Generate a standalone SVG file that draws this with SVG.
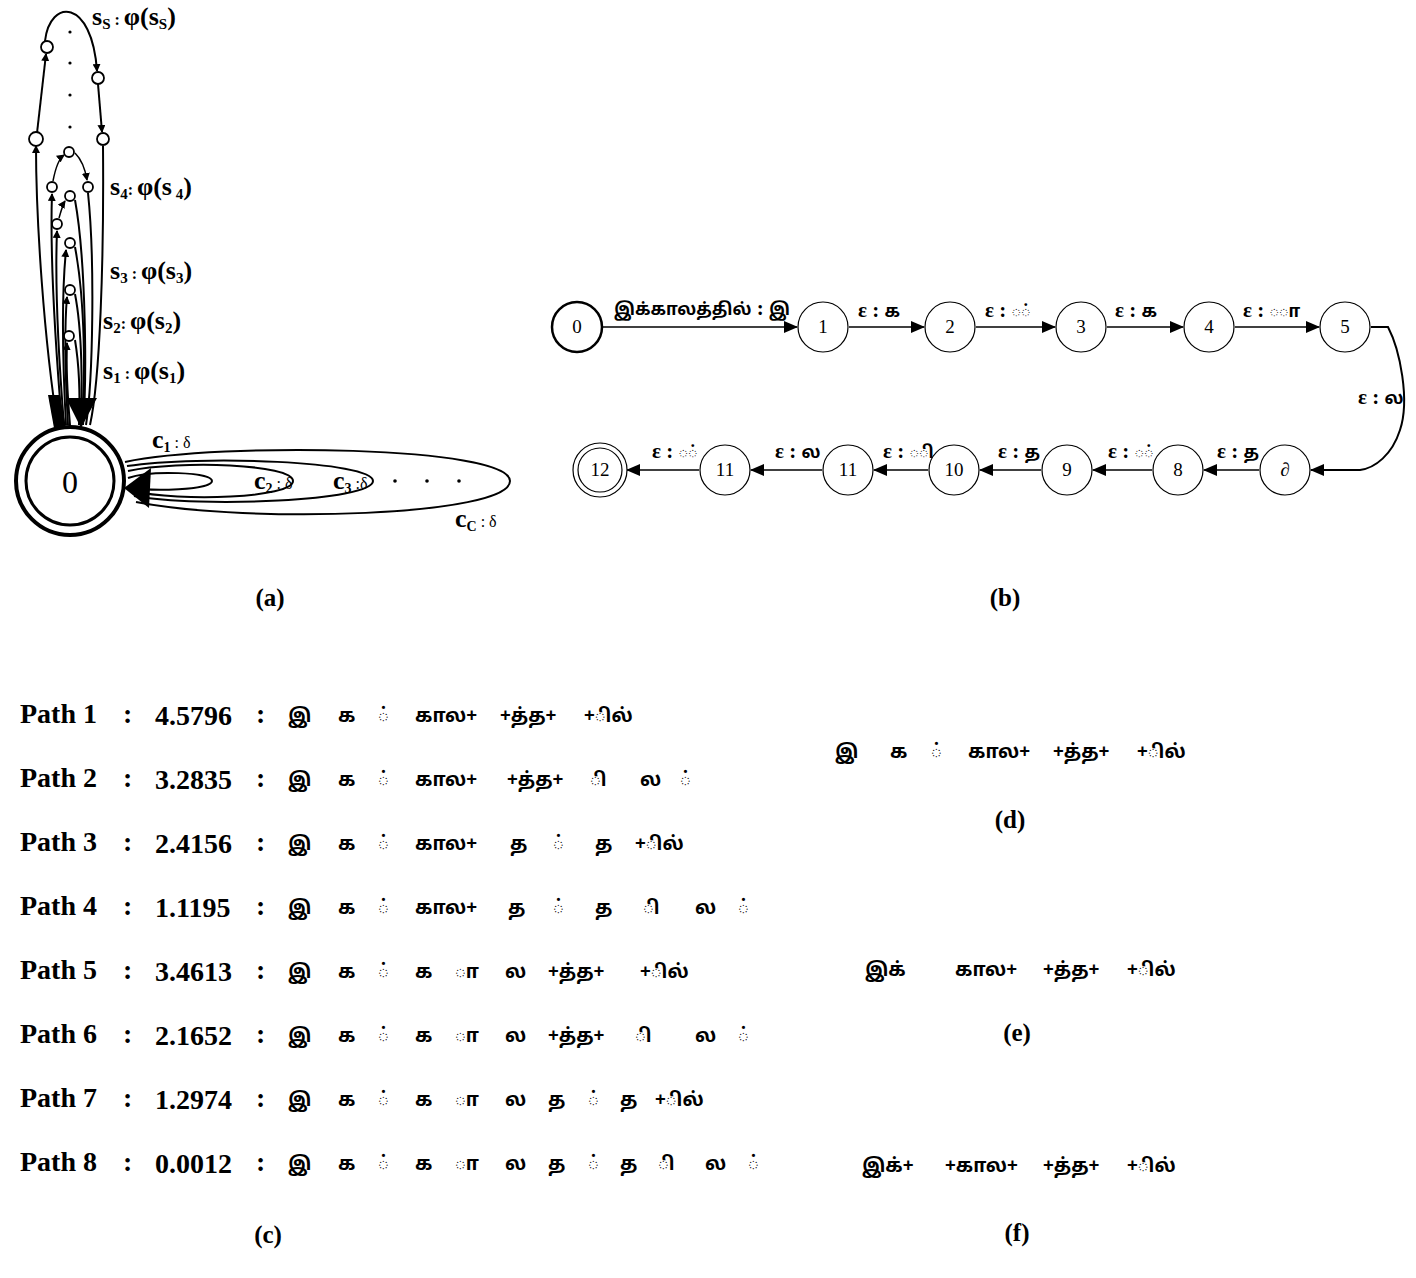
<svg xmlns="http://www.w3.org/2000/svg" width="1416" height="1278" viewBox="0 0 1416 1278">
<style>
.ser{font-family:"Liberation Serif","Noto Sans",serif;fill:#000}
.b{font-weight:bold}
.lbl{font-family:"Liberation Serif",serif;font-weight:bold;font-size:25px;text-anchor:middle}
.ta{font-family:"Noto Sans Tamil","Noto Serif Tamil","Lohit Tamil","Liberation Serif","Noto Sans","DejaVu Sans",sans-serif;font-weight:bold;font-size:19px}
.pa{font-family:"Liberation Serif",serif;font-weight:bold;font-size:28px}
.ln{fill:none;stroke:#000;stroke-width:2}
.lt{fill:none;stroke:#000;stroke-width:1.5}
.sc{fill:#fff;stroke:#000;stroke-width:1.8}
.nd{fill:#fff;stroke:#000;stroke-width:1.2}
.nl{font-family:"Liberation Serif",serif;font-size:19px;text-anchor:middle}
.el{font-family:"Liberation Serif","Noto Sans","DejaVu Sans",sans-serif;font-weight:bold;font-size:21px}
.et{font-family:"Noto Sans Tamil","Noto Serif Tamil","Lohit Tamil","Liberation Serif","Noto Sans","DejaVu Sans",sans-serif;font-size:17px}
</style>
<defs>
<marker id="ah" markerWidth="8" markerHeight="8" refX="7" refY="4" orient="auto" markerUnits="userSpaceOnUse"><path d="M0,0 L8,4 L0,8 Z" fill="#000"/></marker>
<marker id="ab" markerWidth="14" markerHeight="12" refX="13" refY="6" orient="auto" markerUnits="userSpaceOnUse"><path d="M0,0 L14,6 L0,12 Z" fill="#000"/></marker>
</defs>
<rect width="1416" height="1278" fill="#fff"/>

<!-- (a) panel -->
<g id="a-connectors">
  <path class="ln" d="M58,428 C44,340 36,220 36,146" marker-end="url(#ah)"/>
  <path class="ln" d="M37,133 L46,54" marker-end="url(#ah)"/>
  <path class="ln" d="M45,41 C50,-2 92,-2 97,71" marker-end="url(#ah)"/>
  <path class="ln" d="M98,84 L102,132" marker-end="url(#ah)"/>
  <path class="ln" d="M103,146 C104,260 100,380 90,425"/>
  <path class="ln" d="M62,425 C55,340 50,250 52,194" marker-end="url(#ah)"/>
  <path class="lt" d="M53,181 Q57,160 64,155" marker-end="url(#ah)"/>
  <path class="lt" d="M75,153 Q84,162 87,180" marker-end="url(#ah)"/>
  <path class="ln" d="M88,193 C95,260 93,380 86,425"/>
  <path class="ln" d="M64,425 C58,350 55,280 57,231" marker-end="url(#ah)"/>
  <path class="lt" d="M59,218 Q63,204 65,201" marker-end="url(#ah)"/>
  <path class="ln" d="M75,200 C86,260 87,380 83,425"/>
  <path class="ln" d="M66,425 C62,350 62,290 66,250" marker-end="url(#ah)"/>
  <path class="ln" d="M75,247 C85,300 86,380 81,425"/>
  <path class="ln" d="M68,425 C65,370 64,330 67,297" marker-end="url(#ah)"/>
  <path class="ln" d="M75,294 C82,330 83,390 80,425"/>
  <path class="ln" d="M70,425 C67,390 66,365 67,343" marker-end="url(#ah)"/>
  <path class="ln" d="M75,340 C80,370 80,400 79,425"/>
  <path d="M48,395 L60,395 L66,428 L54,428 Z" fill="#000"/>
  <path d="M66,398 L97,398 L81,428 Z" fill="#000"/>
  <path class="ln" d="M128,478 C150,470 212,472 212,481 C212,490 150,492 130,487"/>
  <path class="ln" d="M128,471 C180,460 293,464 293,481 C293,498 180,502 132,491"/>
  <path class="ln" d="M127,466 C200,455 373,461 373,481 C373,501 200,508 134,496"/>
  <path class="ln" d="M125,462 C220,442 510,446 510,481 C510,516 250,524 136,502"/>
  <path d="M124,488 L151,468 L149,508 Z" fill="#000"/>
</g>
<g id="a-node0">
  <circle cx="70" cy="481" r="54" fill="#fff" stroke="#000" stroke-width="4"/>
  <circle cx="70" cy="481" r="44" fill="none" stroke="#000" stroke-width="3"/>
  <text x="70" y="493" class="ser" font-size="32" text-anchor="middle">0</text>
</g>
<g id="a-small">
  <circle class="sc" cx="47" cy="47" r="6"/>
  <circle class="sc" cx="98" cy="78" r="6"/>
  <circle class="sc" cx="36" cy="139" r="7"/>
  <circle class="sc" cx="103" cy="139" r="6"/>
  <circle class="sc" cx="69" cy="152" r="5"/>
  <circle class="sc" cx="52" cy="187" r="5"/>
  <circle class="sc" cx="88" cy="187" r="5"/>
  <circle class="sc" cx="70" cy="196" r="5"/>
  <circle class="sc" cx="57" cy="224" r="5"/>
  <circle class="sc" cx="70" cy="243" r="5"/>
  <circle class="sc" cx="70" cy="290" r="5"/>
  <circle class="sc" cx="69" cy="336" r="5"/>
  <circle cx="70" cy="32" r="1.6"/>
  <circle cx="70" cy="63" r="1.6"/>
  <circle cx="70" cy="95" r="1.6"/>
  <circle cx="70" cy="127" r="1.6"/>
  <circle cx="395" cy="481" r="1.8"/>
  <circle cx="427" cy="481" r="1.8"/>
  <circle cx="459" cy="481" r="1.8"/>
</g>
<g id="a-labels" class="ser b" font-size="26">
  <text x="92" y="25">s<tspan font-size="15" dy="4">S</tspan><tspan dy="-4" font-size="16"> : </tspan>φ(s<tspan font-size="15" dy="4">S</tspan><tspan dy="-4">)</tspan></text>
  <text x="110" y="195">s<tspan font-size="15" dy="4">4</tspan><tspan dy="-4" font-size="16">: </tspan>φ(s<tspan font-size="15" dy="4"> 4</tspan><tspan dy="-4">)</tspan></text>
  <text x="110" y="279">s<tspan font-size="15" dy="4">3</tspan><tspan dy="-4" font-size="16"> : </tspan>φ(s<tspan font-size="15" dy="4">3</tspan><tspan dy="-4">)</tspan></text>
  <text x="103" y="329">s<tspan font-size="15" dy="4">2</tspan><tspan dy="-4" font-size="16">: </tspan>φ(s<tspan font-size="15" dy="4">2</tspan><tspan dy="-4">)</tspan></text>
  <text x="103" y="379">s<tspan font-size="15" dy="4">1</tspan><tspan dy="-4" font-size="16"> : </tspan>φ(s<tspan font-size="15" dy="4">1</tspan><tspan dy="-4">)</tspan></text>
  <text x="152" y="448">c<tspan font-size="14" dy="4">1</tspan><tspan dy="-4" font-size="16" font-weight="normal"> : δ</tspan></text>
  <text x="254" y="489">c<tspan font-size="14" dy="4">2</tspan><tspan dy="-4" font-size="16" font-weight="normal"> :  δ</tspan></text>
  <text x="333" y="489">c<tspan font-size="14" dy="4">3</tspan><tspan dy="-4" font-size="16" font-weight="normal"> :δ</tspan></text>
  <text x="455" y="527">c<tspan font-size="14" dy="4">C</tspan><tspan dy="-4" font-size="16" font-weight="normal"> : δ</tspan></text>
</g>

<!-- (b) panel -->
<g id="b-connectors">
  <path class="lt" d="M602,327 L797,327" marker-end="url(#ab)"/>
  <path class="lt" d="M849,327 L924,327" marker-end="url(#ab)"/>
  <path class="lt" d="M976,327 L1055,327" marker-end="url(#ab)"/>
  <path class="lt" d="M1107,327 L1183,327" marker-end="url(#ab)"/>
  <path class="lt" d="M1235,327 L1319,327" marker-end="url(#ab)"/>
  <path fill="none" stroke="#000" stroke-width="2" d="M1371,327 L1388,327 C1400,350 1410,400 1400,430 C1392,455 1375,468 1360,470 L1311,470" marker-end="url(#ab)"/>
  <path class="lt" d="M1259,470 L1204,470" marker-end="url(#ab)"/>
  <path class="lt" d="M1152,470 L1093,470" marker-end="url(#ab)"/>
  <path class="lt" d="M1041,470 L980,470" marker-end="url(#ab)"/>
  <path class="lt" d="M928,470 L874,470" marker-end="url(#ab)"/>
  <path class="lt" d="M822,470 L751,470" marker-end="url(#ab)"/>
  <path class="lt" d="M699,470 L627,470" marker-end="url(#ab)"/>
</g>
<g id="b-n0"><circle cx="577" cy="327" r="25" fill="#fff" stroke="#000" stroke-width="2.5"/><text class="nl" x="577" y="333">0</text></g>
<g id="b-n1"><circle class="nd" cx="823" cy="327" r="25"/><text class="nl" x="823" y="333">1</text></g>
<g id="b-n2"><circle class="nd" cx="950" cy="327" r="25"/><text class="nl" x="950" y="333">2</text></g>
<g id="b-n3"><circle class="nd" cx="1081" cy="327" r="25"/><text class="nl" x="1081" y="333">3</text></g>
<g id="b-n4"><circle class="nd" cx="1209" cy="327" r="25"/><text class="nl" x="1209" y="333">4</text></g>
<g id="b-n5"><circle class="nd" cx="1345" cy="327" r="25"/><text class="nl" x="1345" y="333">5</text></g>
<g id="b-n6"><circle class="nd" cx="1285" cy="470" r="25"/><text class="nl" x="1285" y="476">∂</text></g>
<g id="b-n8"><circle class="nd" cx="1178" cy="470" r="25"/><text class="nl" x="1178" y="476">8</text></g>
<g id="b-n9"><circle class="nd" cx="1067" cy="470" r="25"/><text class="nl" x="1067" y="476">9</text></g>
<g id="b-n10"><circle class="nd" cx="954" cy="470" r="25"/><text class="nl" x="954" y="476">10</text></g>
<g id="b-n11a"><circle class="nd" cx="848" cy="470" r="25"/><text class="nl" x="848" y="476">11</text></g>
<g id="b-n11b"><circle class="nd" cx="725" cy="470" r="25"/><text class="nl" x="725" y="476">11</text></g>
<g id="b-n12"><circle class="nd" cx="600" cy="470" r="27"/><circle class="nd" cx="600" cy="470" r="22"/><text class="nl" x="600" y="476">12</text></g>
<g id="b-labels" class="el">
  <text x="614" y="315"><tspan class="et">இக்காலத்தில்</tspan> : <tspan class="et">இ</tspan></text>
  <text x="858" y="317">ε : <tspan class="et">க</tspan></text>
  <text x="985" y="317">ε : <tspan class="et">◌்</tspan></text>
  <text x="1115" y="317">ε : <tspan class="et">க</tspan></text>
  <text x="1243" y="317">ε : <tspan class="et">◌ா</tspan></text>
  <text x="1358" y="404">ε : <tspan class="et">ல</tspan></text>
  <text x="1217" y="458">ε : <tspan class="et">த</tspan></text>
  <text x="1108" y="458">ε : <tspan class="et">◌்</tspan></text>
  <text x="998" y="458">ε : <tspan class="et">த</tspan></text>
  <text x="883" y="458">ε : <tspan class="et">◌ி</tspan></text>
  <text x="775" y="458">ε : <tspan class="et">ல</tspan></text>
  <text x="652" y="458">ε : <tspan class="et">◌்</tspan></text>
</g>

<!-- (c) paths -->
<g id="c-paths">
  <g class="pa">
    <text x="20" y="723">Path 1</text><text x="123" y="723">:</text><text x="155" y="725">4.5796</text><text x="256" y="723">:</text>
    <text x="20" y="787">Path 2</text><text x="123" y="787">:</text><text x="155" y="789">3.2835</text><text x="256" y="787">:</text>
    <text x="20" y="851">Path 3</text><text x="123" y="851">:</text><text x="155" y="853">2.4156</text><text x="256" y="851">:</text>
    <text x="20" y="915">Path 4</text><text x="123" y="915">:</text><text x="155" y="917">1.1195</text><text x="256" y="915">:</text>
    <text x="20" y="979">Path 5</text><text x="123" y="979">:</text><text x="155" y="981">3.4613</text><text x="256" y="979">:</text>
    <text x="20" y="1043">Path 6</text><text x="123" y="1043">:</text><text x="155" y="1045">2.1652</text><text x="256" y="1043">:</text>
    <text x="20" y="1107">Path 7</text><text x="123" y="1107">:</text><text x="155" y="1109">1.2974</text><text x="256" y="1107">:</text>
    <text x="20" y="1171">Path 8</text><text x="123" y="1171">:</text><text x="155" y="1173">0.0012</text><text x="256" y="1171">:</text>
  </g>
  <g class="ta">
    <text x="288" y="722">இ</text><text x="338" y="722">க</text><text x="378" y="722">◌்</text><text x="415" y="722">கால+</text><text x="500" y="722">+த்த+</text><text x="584" y="722">+◌ில்</text>
    <text x="288" y="786">இ</text><text x="338" y="786">க</text><text x="378" y="786">◌்</text><text x="415" y="786">கால+</text><text x="507" y="786">+த்த+</text><text x="590" y="786">◌ி</text><text x="640" y="786">ல</text><text x="680" y="786">◌்</text>
    <text x="288" y="850">இ</text><text x="338" y="850">க</text><text x="378" y="850">◌்</text><text x="415" y="850">கால+</text><text x="510" y="850">த</text><text x="553" y="850">◌்</text><text x="595" y="850">த</text><text x="635" y="850">+◌ில்</text>
    <text x="288" y="914">இ</text><text x="338" y="914">க</text><text x="378" y="914">◌்</text><text x="415" y="914">கால+</text><text x="508" y="914">த</text><text x="553" y="914">◌்</text><text x="595" y="914">த</text><text x="643" y="914">◌ி</text><text x="695" y="914">ல</text><text x="738" y="914">◌்</text>
    <text x="288" y="978">இ</text><text x="338" y="978">க</text><text x="378" y="978">◌்</text><text x="415" y="978">க</text><text x="455" y="978">◌ா</text><text x="505" y="978">ல</text><text x="548" y="978">+த்த+</text><text x="640" y="978">+◌ில்</text>
    <text x="288" y="1042">இ</text><text x="338" y="1042">க</text><text x="378" y="1042">◌்</text><text x="415" y="1042">க</text><text x="455" y="1042">◌ா</text><text x="505" y="1042">ல</text><text x="548" y="1042">+த்த+</text><text x="635" y="1042">◌ி</text><text x="695" y="1042">ல</text><text x="738" y="1042">◌்</text>
    <text x="288" y="1106">இ</text><text x="338" y="1106">க</text><text x="378" y="1106">◌்</text><text x="415" y="1106">க</text><text x="455" y="1106">◌ா</text><text x="505" y="1106">ல</text><text x="548" y="1106">த</text><text x="588" y="1106">◌்</text><text x="620" y="1106">த</text><text x="655" y="1106">+◌ில்</text>
    <text x="288" y="1170">இ</text><text x="338" y="1170">க</text><text x="378" y="1170">◌்</text><text x="415" y="1170">க</text><text x="455" y="1170">◌ா</text><text x="505" y="1170">ல</text><text x="548" y="1170">த</text><text x="588" y="1170">◌்</text><text x="620" y="1170">த</text><text x="658" y="1170">◌ி</text><text x="705" y="1170">ல</text><text x="748" y="1170">◌்</text>
  </g>
</g>

<!-- (d)(e)(f) -->
<g id="def" class="ta">
  <text x="835" y="758">இ</text><text x="890" y="758">க</text><text x="931" y="758">◌்</text><text x="968" y="758">கால+</text><text x="1053" y="758">+த்த+</text><text x="1137" y="758">+◌ில்</text>
  <text x="865" y="976">இக்</text><text x="955" y="976">கால+</text><text x="1043" y="976">+த்த+</text><text x="1127" y="976">+◌ில்</text>
  <text x="862" y="1172">இக்+</text><text x="945" y="1172">+கால+</text><text x="1043" y="1172">+த்த+</text><text x="1127" y="1172">+◌ில்</text>
</g>

<g id="captions" class="lbl">
  <text x="270" y="606">(a)</text>
  <text x="1005" y="606">(b)</text>
  <text x="268" y="1243">(c)</text>
  <text x="1010" y="828">(d)</text>
  <text x="1017" y="1041">(e)</text>
  <text x="1017" y="1241">(f)</text>
</g>
</svg>
